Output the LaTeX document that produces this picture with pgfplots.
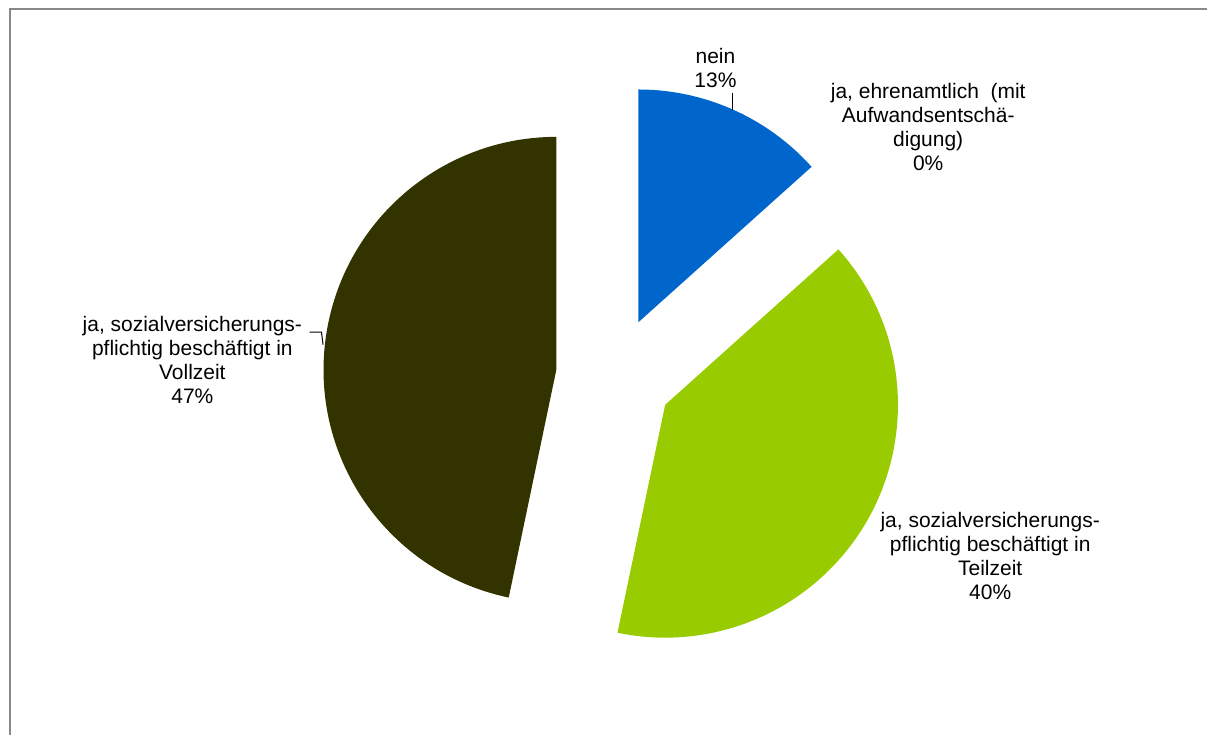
\documentclass[border=0pt]{standalone}
\usepackage{pgfplots}
\usepackage{pgfplotstable}
\pgfplotsset{compat=1.18}
\usepackage{fontspec}
\setmainfont{Liberation Sans}
\definecolor{pieblue}{HTML}{0066CC}
\definecolor{piegreen}{HTML}{99CC00}
\definecolor{piedark}{HTML}{333300}
\definecolor{framegray}{HTML}{898989}

\pgfplotstableread{
slice value
nein 13.36
ehrenamtlich 0
Teilzeit 39.92
Vollzeit 46.72
}\piedata

\begin{document}
\begin{tikzpicture}
% read values
\pgfplotstablegetelem{0}{value}\of\piedata \edef\vA{\pgfplotsretval}
\pgfplotstablegetelem{1}{value}\of\piedata \edef\vB{\pgfplotsretval}
\pgfplotstablegetelem{2}{value}\of\piedata \edef\vC{\pgfplotsretval}
\pgfplotstablegetelem{3}{value}\of\piedata \edef\vD{\pgfplotsretval}
% angles (clockwise from 12 o'clock)
\pgfmathsetmacro\sA{90}
\pgfmathsetmacro\eA{\sA-3.6*\vA}
\pgfmathsetmacro\sB{\eA}
\pgfmathsetmacro\eB{\sB-3.6*\vB}
\pgfmathsetmacro\sC{\eB}
\pgfmathsetmacro\eC{\sC-3.6*\vC}
\pgfmathsetmacro\sD{\eC}
\pgfmathsetmacro\eD{\sD-3.6*\vD}
% exploded centres (axis units = pixels)
\def\cx{615}\def\cy{360}\def\ex{58.5}
\pgfmathsetmacro\xA{\cx+\ex*cos((\sA+\eA)/2)}\pgfmathsetmacro\yA{\cy+\ex*sin((\sA+\eA)/2)}
\pgfmathsetmacro\xB{\cx+\ex*cos((\sB+\eB)/2)}\pgfmathsetmacro\yB{\cy+\ex*sin((\sB+\eB)/2)}
\pgfmathsetmacro\xC{\cx+\ex*cos((\sC+\eC)/2)}\pgfmathsetmacro\yC{\cy+\ex*sin((\sC+\eC)/2)}
\pgfmathsetmacro\xD{\cx+\ex*cos((\sD+\eD)/2)}\pgfmathsetmacro\yD{\cy+\ex*sin((\sD+\eD)/2)}
\begin{axis}[
  scale only axis, width=604pt, height=368pt,
  xmin=0, xmax=1208, ymin=0, ymax=736,
  hide axis, clip=false,
]
\path (axis cs:0,0) rectangle (axis cs:1208,736);
% frame
\draw[framegray, line width=1pt] (axis cs:10,0) -- (axis cs:10,726.5) -- (axis cs:1208,726.5);
% slices
\fill[pieblue] (axis cs:\xA,\yA) -- ++(\sA:116.5pt) arc[start angle=\sA, end angle=\eA, radius=116.5pt] -- cycle;
\fill[piegreen] (axis cs:\xC,\yC) -- ++(\sC:116.5pt) arc[start angle=\sC, end angle=\eC, radius=116.5pt] -- cycle;
\fill[piedark] (axis cs:\xD,\yD) -- ++(\sD:116.5pt) arc[start angle=\sD, end angle=\eD, radius=116.5pt] -- cycle;
% leader lines
\draw[black, line width=0.5pt] (axis cs:733.3,642.7) -- (axis cs:733.3,626);
\draw[black, line width=0.5pt] (axis cs:310,403.7) -- (axis cs:321.7,403.7) -- (axis cs:323.3,391);
% labels
\begin{scope}[every node/.style={align=center, inner sep=0pt, font=\fontsize{10.5}{12}\selectfont}]
\node at (axis cs:716,668) {nein\\13\%};
\node at (axis cs:929,608.5) {ja, ehrenamtlich\ \ (mit\\Aufwandsentsch\"a-\\digung)\\0\%};
\node at (axis cs:991,180) {ja, sozialversicherungs-\\pflichtig besch\"aftigt\ in\\Teilzeit\\40\%};
\node at (axis cs:192.5,376) {ja, sozialversicherungs-\\pflichtig besch\"aftigt\ in\\Vollzeit\\47\%};
\end{scope}
\end{axis}
\end{tikzpicture}
\end{document}
